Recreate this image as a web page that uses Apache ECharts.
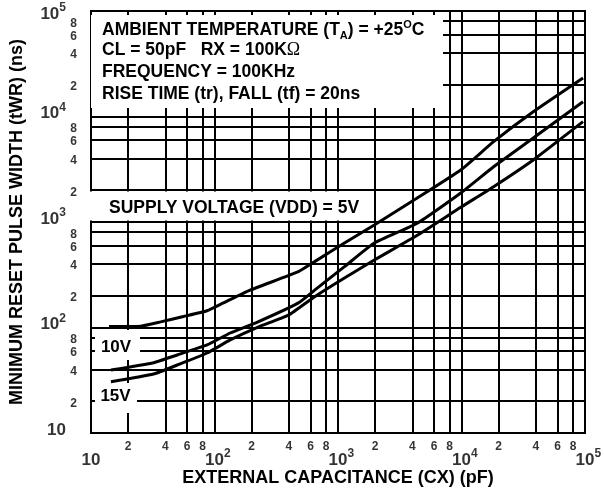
<!DOCTYPE html>
<html><head><meta charset="utf-8">
<script src="https://cdn.jsdelivr.net/npm/echarts@6/dist/echarts.min.js"></script>
<style>html,body{margin:0;padding:0;background:#fff}#c{width:604px;height:492px}</style>
</head><body><div id="c"></div><script>
// ---- axis ranges & ticks ----
const xMin = 10, xMax = 100000, yMin = 10, yMax = 100000;
const decadeValues = [10, 100, 1000, 10000, 100000];
const decadeExponents = ['', '2', '3', '4', '5'];
const minorValues = [20, 40, 60, 80, 200, 400, 600, 800, 2000, 4000, 6000, 8000, 20000, 40000, 60000, 80000];
const minorLabels = ['2', '4', '6', '8', '2', '4', '6', '8', '2', '4', '6', '8', '2', '4', '6', '8'];

// ---- series data (CX in pF, tWR in ns) ----
const cap5V = [14, 25.3, 36.6, 56, 87, 118, 194, 478, 647, 1128, 1967, 4130, 9860, 18200, 38100, 96400];
const tWR5V = [102, 103, 113, 127, 144, 171, 226, 338, 421, 632, 937, 1617, 3110, 5770, 11100, 23200];
const cap10V = [14.5, 32.1, 49.9, 87, 134, 225, 478, 647, 1128, 1967, 4420, 9860, 18200, 38100, 96400];
const tWR10V = [39.5, 46.4, 54.9, 68.3, 88.7, 113, 171, 226, 377, 632, 979, 1883, 3340, 6250, 13800];
const cap15V = [14.5, 32.1, 49.9, 87, 134, 225, 397, 647, 1128, 1967, 4420, 9860, 18200, 38100, 96400];
const tWR15V = [30.6, 36.2, 44.1, 57.3, 76.2, 101, 131, 196, 295, 436, 753, 1378, 2160, 3870, 8930];

const xTitle = 'EXTERNAL CAPACITANCE (CX) (pF)';
const yTitle = 'MINIMUM RESET PULSE WIDTH (tWR) (ns)';

const FONT = '"Liberation Sans", Arial, Helvetica, sans-serif';
const gridValues = minorValues.concat([100, 1000, 10000]);

const chart = echarts.init(document.getElementById('c'), null, {renderer: 'canvas'});

function pairs(xs, ys) { return xs.map((x, i) => [x, ys[i]]); }
function curve(name, xs, ys) {
  return {
    name, type: 'line', z: 20, data: pairs(xs, ys), showSymbol: false, symbol: 'none',
    smooth: 0.15, silent: true,
    lineStyle: {color: '#000', width: 3}
  };
}
const richX = {
  b: {fontFamily: FONT, fontWeight: 'bold', fontSize: 17, color: '#000', lineHeight: 24},
  e: {fontFamily: FONT, fontWeight: 'bold', fontSize: 12, color: '#000', lineHeight: 8, verticalAlign: 'top'}
};
const richY = {
  b: {fontFamily: FONT, fontWeight: 'bold', fontSize: 17, color: '#000', lineHeight: 24},
  e: {fontFamily: FONT, fontWeight: 'bold', fontSize: 12, color: '#000', lineHeight: 12, verticalAlign: 'top'}
};
function decadeText(i) { return decadeExponents[i] ? '{b|10}{e|' + decadeExponents[i] + '}' : '{b|10}'; }

const labelSeriesBase = {type: 'scatter', symbolSize: 0, z: 30, silent: true, clip: false};
const BOXFONT = 'bold 17.5px ' + FONT;

const option = {
  animation: false,
  backgroundColor: '#fff',
  grid: {left: 88, top: 11, width: 497, height: 422, show: true, borderColor: '#000', borderWidth: 2, backgroundColor: 'transparent'},
  xAxis: {
    type: 'log', logBase: 10, min: xMin, max: xMax,
    axisLine: {show: false}, axisTick: {show: false}, axisLabel: {show: false}, splitLine: {show: false},
    name: xTitle, nameLocation: 'middle', nameGap: 36,
    nameTextStyle: {fontFamily: FONT, fontWeight: 'bold', fontSize: 18, color: '#000'}
  },
  yAxis: {
    type: 'log', logBase: 10, min: yMin, max: yMax,
    axisLine: {show: false}, axisTick: {show: false}, axisLabel: {show: false}, splitLine: {show: false},
    name: yTitle, nameLocation: 'middle', nameGap: 65, nameRotate: 90,
    nameTextStyle: {fontFamily: FONT, fontWeight: 'bold', fontSize: 18, color: '#000'}
  },
  graphic: {
    elements: [
      {type: 'rect', z: 10, shape: {x: 91, y: 15, width: 352, height: 93}, style: {fill: '#fff'}},
      {type: 'rect', z: 10, shape: {x: 88, y: 191.5, width: 281, height: 29}, style: {fill: '#fff'}},
      {type: 'rect', z: 10, shape: {x: 95, y: 330, width: 45, height: 30}, style: {fill: '#fff'}},
      {type: 'rect', z: 10, shape: {x: 95, y: 383, width: 42, height: 30}, style: {fill: '#fff'}},
      {type: 'text', z: 11, x: 102, y: 30.5, style: {
        text: 'AMBIENT TEMPERATURE (T{sub|A}) = +25{sup|O}C', font: BOXFONT, fill: '#000', verticalAlign: 'middle', lineHeight: 22,
        rich: {sub: {fontSize: 11, fontWeight: 'bold', fontFamily: FONT, lineHeight: 11, verticalAlign: 'bottom'},
               sup: {fontSize: 11, fontWeight: 'bold', fontFamily: FONT, lineHeight: 11, verticalAlign: 'top'}}}},
      {type: 'text', z: 11, x: 102, y: 50, style: {
        text: 'CL = 50pF   RX = 100K{om|Ω}', font: BOXFONT, fill: '#000', verticalAlign: 'middle',
        rich: {om: {fontSize: 18, fontWeight: 'normal', fontFamily: '"Liberation Serif", serif'}}}},
      {type: 'text', z: 11, x: 102, y: 72, style: {text: 'FREQUENCY = 100KHz', font: BOXFONT, fill: '#000', verticalAlign: 'middle'}},
      {type: 'text', z: 11, x: 102, y: 94.5, style: {text: 'RISE TIME (tr), FALL (tf) = 20ns', font: BOXFONT, fill: '#000', verticalAlign: 'middle'}},
      {type: 'text', z: 11, x: 109, y: 208, style: {text: 'SUPPLY VOLTAGE (VDD) = 5V', font: BOXFONT, fill: '#000', verticalAlign: 'middle'}},
      {type: 'text', z: 11, x: 116, y: 347, style: {text: '10V', font: 'bold 17px ' + FONT, fill: '#000', align: 'center', verticalAlign: 'middle'}},
      {type: 'text', z: 11, x: 115.5, y: 396.5, style: {text: '15V', font: 'bold 17px ' + FONT, fill: '#000', align: 'center', verticalAlign: 'middle'}}
    ]
  },
  series: [
    {
      name: 'grid', type: 'line', data: [], z: 1, silent: true,
      markLine: {
        silent: true, animation: false, symbol: ['none', 'none'], label: {show: false},
        lineStyle: {color: '#000', width: 2, type: 'solid'}, emphasis: {disabled: true},
        data: gridValues.map(v => ({xAxis: v})).concat(gridValues.map(v => ({yAxis: v})))
      }
    },
    curve('VDD = 5V', cap5V, tWR5V),
    curve('VDD = 10V', cap10V, tWR10V),
    curve('VDD = 15V', cap15V, tWR15V),
    Object.assign({}, labelSeriesBase, {
      name: 'xMinorLabels',
      data: minorValues.map((v, i) => ({value: [v, yMin], label: {formatter: minorLabels[i]}})),
      label: {show: true, position: 'bottom', distance: 8, fontFamily: FONT, fontWeight: 'bold', fontSize: 12, color: '#000'}
    }),
    Object.assign({}, labelSeriesBase, {
      name: 'xDecadeLabels',
      data: decadeValues.map((v, i) => ({value: [v, yMin], label: {formatter: decadeText(i)}})),
      label: {show: true, position: 'bottom', distance: 15, align: 'left', offset: [-9.5, 0], rich: richX}
    }),
    Object.assign({}, labelSeriesBase, {
      name: 'yMinorLabels',
      data: minorValues.map((v, i) => ({value: [xMin, v], label: {formatter: minorLabels[i]}})),
      label: {show: true, position: 'left', distance: 14, offset: [0, 2], fontFamily: FONT, fontWeight: 'bold', fontSize: 12, color: '#000'}
    }),
    Object.assign({}, labelSeriesBase, {
      name: 'yDecadeLabels',
      data: decadeValues.map((v, i) => ({value: [xMin, v], label: {formatter: decadeText(i), offset: [0, v === yMax ? 3 : -3]}})),
      label: {show: true, position: 'left', distance: 25, rich: richY}
    })
  ]
};
chart.setOption(option);
</script></body></html>
